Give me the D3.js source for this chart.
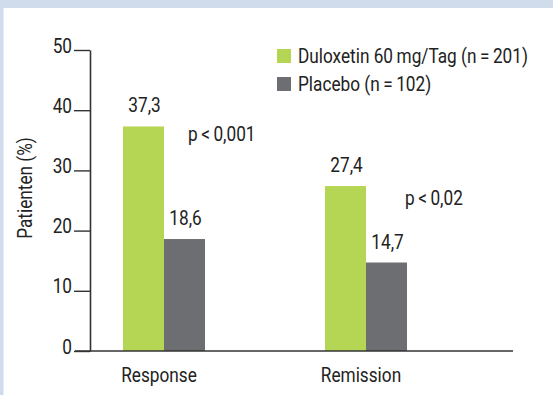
<!DOCTYPE html>
<html>
<head>
<meta charset="utf-8">
<script src="https://cdn.jsdelivr.net/npm/d3@7"></script>
<style>
  html, body { margin: 0; padding: 0; background: #fff; }
  svg { display: block; }
  text { font-family: Roboto, "Open Sans", sans-serif; fill: #222; }
</style>
</head>
<body>
<svg id="chart" width="553" height="395"></svg>
<script>
// ---- data ----
const categories = ["Response", "Remission"];
const seriesNames = ["Duloxetin 60\u2009mg/Tag (n\u2009=\u2009201)", "Placebo (n\u2009=\u2009102)"];
const duloxetinValues = [37.3, 27.4];
const placeboValues = [18.6, 14.7];
const valueLabels = [["37,3", "18,6"], ["27,4", "14,7"]];
const pLabels = ["p\u2009<\u20090,001", "p\u2009<\u20090,02"];
const yTicks = [0, 10, 20, 30, 40, 50];
const yTitle = "Patienten (%)";
const colors = ["#b5d554", "#6d6e71"];

// ---- layout ----
const W = 553, H = 395;
const svg = d3.select("#chart");
const FS = 20;

// light blue frame (top and left strips)
svg.append("rect").attr("x", 0).attr("y", 0).attr("width", W).attr("height", 8).attr("fill", "#d0dbec");
svg.append("rect").attr("x", 0).attr("y", 0).attr("width", 3.5).attr("height", H).attr("fill", "#d0dbec");

const y = d3.scaleLinear().domain([0, 50]).range([351, 50]);
const xGroup = d3.scalePoint().domain(categories).range([164, 366]);
const xSeries = d3.scaleBand().domain(seriesNames).range([-41, 41]).padding(0);

const rows = categories.map((c, i) => ({
  cat: c,
  vals: [duloxetinValues[i], placeboValues[i]],
  labels: valueLabels[i]
}));

// bars
const g = svg.append("g");
rows.forEach((r, i) => {
  const gg = g.append("g").attr("transform", `translate(${xGroup(r.cat)},0)`);
  gg.selectAll("rect").data(r.vals).join("rect")
    .attr("x", (d, j) => xSeries(seriesNames[j]))
    .attr("width", xSeries.bandwidth())
    .attr("y", d => y(d))
    .attr("height", d => y(0) - y(d))
    .attr("fill", (d, j) => colors[j]);
  gg.selectAll("text.val").data(r.vals).join("text")
    .attr("class", "val")
    .attr("x", (d, j) => xSeries(seriesNames[j]) + xSeries.bandwidth() / 2 + 1)
    .attr("y", d => y(d) - 14)
    .attr("text-anchor", "middle")
    .attr("font-size", FS)
    .text((d, j) => r.labels[j]);
});

// p-value annotations
const pOffsetsX = [24, 39];
const pYVals = [34.9, 24.3];
pLabels.forEach((p, i) => {
  svg.append("text")
    .attr("x", xGroup(categories[i]) + pOffsetsX[i])
    .attr("y", y(pYVals[i]))
    .attr("font-size", FS)
    .text(p);
});

// y axis
const yAxis = d3.axisLeft(y).tickValues(yTicks).tickSize(16).tickSizeOuter(0).tickPadding(2)
  .tickFormat(d3.format("d"));
const ya = svg.append("g").attr("transform", "translate(90,0)").call(yAxis);
ya.select(".domain").attr("stroke", "#333").attr("stroke-width", 1.6);
ya.selectAll(".tick line").attr("stroke", "#333").attr("stroke-width", 1.4);
ya.selectAll(".tick text").attr("font-size", FS).attr("dy", 2)
  .attr("font-family", null).style("fill", "#222");

// x axis baseline
svg.append("line")
  .attr("x1", 75).attr("x2", 513)
  .attr("y1", y(0)).attr("y2", y(0))
  .attr("stroke", "#333").attr("stroke-width", 1.6);

// category labels
svg.selectAll("text.cat").data(categories).join("text")
  .attr("class", "cat")
  .attr("x", d => xGroup(d) - 5)
  .attr("y", 382)
  .attr("text-anchor", "middle")
  .attr("font-size", FS)
  .text(d => d);

// y title
svg.append("text")
  .attr("transform", "translate(32,188) rotate(-90)")
  .attr("text-anchor", "middle")
  .attr("font-size", FS)
  .text(yTitle);

// legend
const leg = svg.append("g").attr("transform", "translate(277,49)");
const legTexts = [];
seriesNames.forEach((s, i) => {
  leg.append("rect").attr("x", 0).attr("y", i * 28).attr("width", 14).attr("height", 14).attr("fill", colors[i]);
  legTexts.push(leg.append("text").attr("x", 21).attr("y", i * 28 + 14).attr("font-size", FS).text(s));
});

// condense all text horizontally (around its anchor) to imitate the narrow typeface of the original
const k = 230 / legTexts[0].node().getComputedTextLength();
svg.selectAll("text").each(function () {
  const ax = +(this.getAttribute("x") || 0);
  const prev = this.getAttribute("transform") || "";
  d3.select(this).attr("transform", `${prev} translate(${ax},0) scale(${k},1) translate(${-ax},0)`);
});
</script>
</body>
</html>
